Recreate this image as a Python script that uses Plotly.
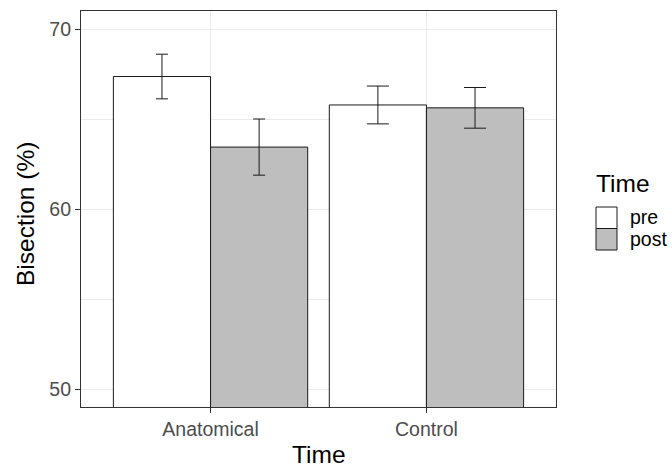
import plotly.graph_objects as go

categories = ["Anatomical", "Control"]
groups = ["pre", "post"]
means = {"pre": [67.36, 65.78], "post": [63.44, 65.62]}
errors = {"pre": [1.24, 1.05], "post": [1.56, 1.13]}
fills = {"pre": "#FFFFFF", "post": "#BEBEBE"}
cap_half_width = [6, 11]  # per category

W, H = 672, 467
ML, MR, MT, MB = 81, 116, 11, 60
PW, PH = W - ML - MR, H - MT - MB

def px(x):
    return (x - ML) / PW

def py(y):
    return (H - MB - y) / PH

fig = go.Figure()
for g in groups:
    for i, c in enumerate(categories):
        fig.add_trace(go.Bar(
            x=[c], y=[means[g][i]], name=g, offsetgroup=g, showlegend=False,
            marker=dict(color=fills[g], line=dict(color="#1a1a1a", width=1)),
            error_y=dict(type="data", array=[errors[g][i]], color="#1a1a1a",
                         thickness=1, width=cap_half_width[i]),
        ))

tickfont = dict(family="Liberation Sans, Arial, sans-serif", size=19.5, color="#4D4D4D")
titlefont = dict(family="Liberation Sans, Arial, sans-serif", size=24.5, color="#000000")

fig.update_layout(
    width=W, height=H, margin=dict(l=ML, r=MR, t=MT, b=MB),
    paper_bgcolor="white", plot_bgcolor="white",
    barmode="group", bargap=0.1, bargroupgap=0,
    showlegend=False,
    xaxis=dict(range=[-0.6, 1.6], tickfont=tickfont, showline=True, mirror=True,
               linecolor="#333333", linewidth=1.1, ticks="outside", ticklen=5,
               tickcolor="#333333", tickwidth=1.1, showgrid=True, gridcolor="#EBEBEB",
               gridwidth=1.1, zeroline=False),
    yaxis=dict(range=[49, 71], tickvals=[50, 60, 70], tickfont=tickfont, showline=True,
               mirror=True, linecolor="#333333", linewidth=1.1, ticks="outside",
               ticklen=5, tickcolor="#333333", tickwidth=1.1, showgrid=True,
               gridcolor="#EBEBEB", gridwidth=1.1, zeroline=False,
               minor=dict(tickvals=[55, 65], showgrid=True, gridcolor="#EBEBEB",
                          gridwidth=0.5, ticks="")),
)

# axis titles
fig.add_annotation(text="Time", x=0.5, y=py(454), xref="paper", yref="paper",
                   showarrow=False, font=titlefont, xanchor="center", yanchor="middle")
fig.add_annotation(text="Bisection (%)", x=px(25), y=py(214), xref="paper", yref="paper",
                   showarrow=False, font=titlefont, textangle=-90, xanchor="center",
                   yanchor="middle")

# legend (manual, ggplot style)
fig.add_annotation(text="Time", x=px(594), y=py(183), xref="paper", yref="paper",
                   showarrow=False, font=titlefont, xanchor="left", yanchor="middle")
key_tops = [207, 228.5]
for g, top in zip(groups, key_tops):
    fig.add_shape(type="rect", xref="paper", yref="paper",
                  x0=px(596), x1=px(617), y0=py(top), y1=py(top + 21.5),
                  fillcolor=fills[g], line=dict(color="#1a1a1a", width=1))
    fig.add_annotation(text=g, x=px(628), y=py(top + 10.5), xref="paper", yref="paper",
                       showarrow=False,
                       font=dict(family="Liberation Sans, Arial, sans-serif", size=19.5,
                                 color="#000000"),
                       xanchor="left", yanchor="middle")

fig.write_html("out.html")
